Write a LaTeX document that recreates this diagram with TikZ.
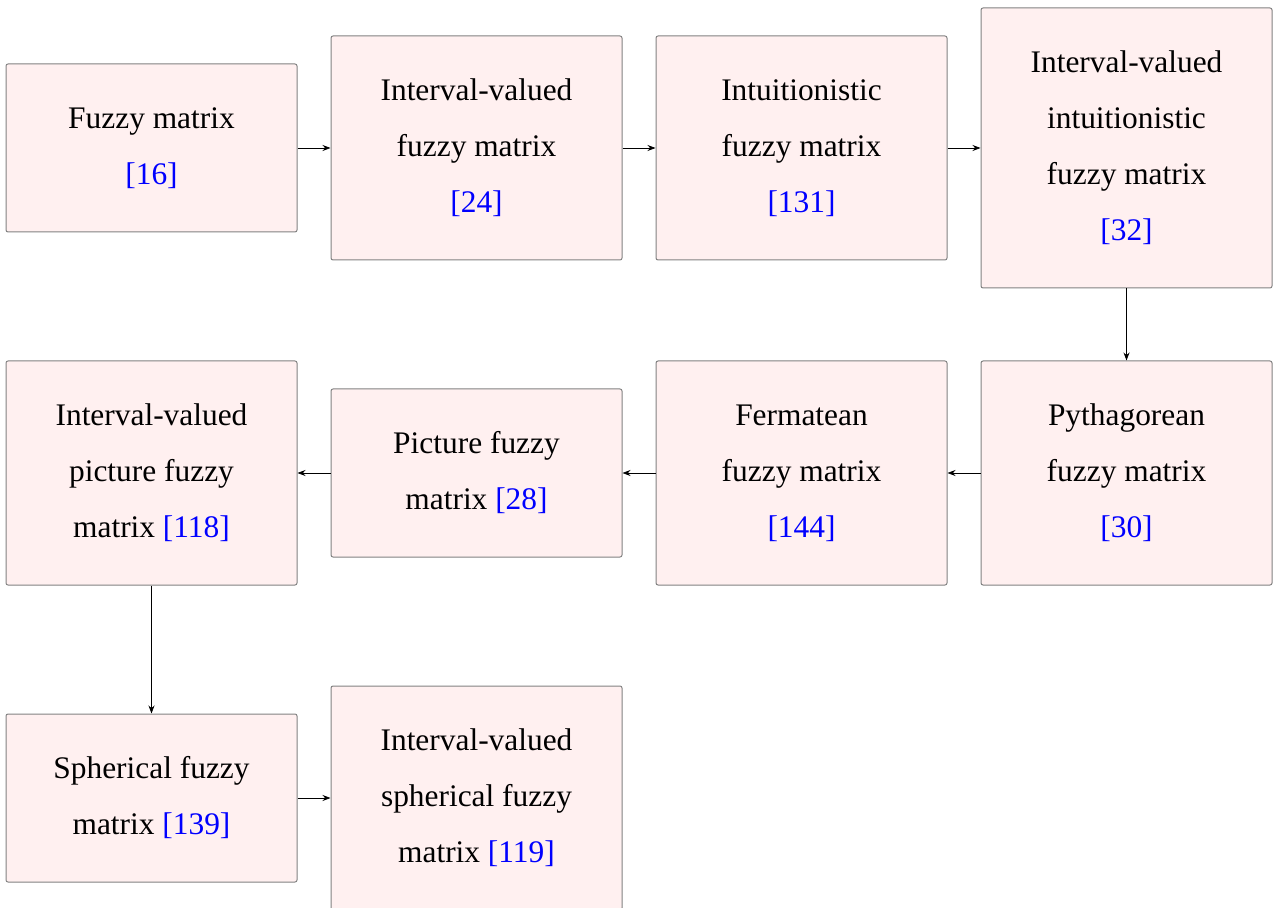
\documentclass[tikz,border=0pt]{standalone}
\usepackage{fontspec}
\setmainfont{Liberation Serif}
\usetikzlibrary{arrows.meta}
\definecolor{boxfill}{RGB}{255,240,240}
\definecolor{boxline}{RGB}{130,130,130}
\newcommand{\citeref}[1]{\textcolor{blue}{[#1]}}
\begin{document}
\begin{tikzpicture}[x=0.5pt,y=-0.5pt,
  stagebox/.style={draw=boxline, fill=boxfill, line width=0.5pt, rounded corners=1pt,
    minimum width=145.5pt, inner sep=0pt, align=center,
    font=\fontsize{15.7}{28}\selectfont},
  short/.style={stagebox, minimum height=84pt},
  mid/.style={stagebox, minimum height=112pt},
  tall/.style={stagebox, minimum height=140pt},
  flow/.style={-{Stealth[length=4pt,width=3pt]}, line width=0.4pt, black}]
\useasboundingbox (0,0) rectangle (1273,908);

% first row, left to right
\node[short] (fm)   at (151.5,148) {Fuzzy matrix\\\citeref{16}};
\node[mid]   (ivfm) at (476.5,148) {Interval-valued\\fuzzy matrix\\\citeref{24}};
\node[mid]   (ifm)  at (801.5,148) {Intuitionistic\\fuzzy matrix\\\citeref{131}};
\node[tall]  (ivifm) at (1126.5,148) {Interval-valued\\intuitionistic\\fuzzy matrix\\\citeref{32}};

% second row, right to left
\node[mid]   (pyfm)  at (1126.5,473) {Pythagorean\\fuzzy matrix\\\citeref{30}};
\node[mid]   (ffm)   at (801.5,473) {Fermatean\\fuzzy matrix\\\citeref{144}};
\node[short] (pfm)   at (476.5,473) {Picture fuzzy\\matrix \citeref{28}};
\node[mid]   (ivpfm) at (151.5,473) {Interval-valued\\picture fuzzy\\matrix \citeref{118}};

% third row
\node[short] (sfm)   at (151.5,798) {Spherical fuzzy\\matrix \citeref{139}};
\node[mid]   (ivsfm) at (476.5,798) {Interval-valued\\spherical fuzzy\\matrix \citeref{119}};

\draw[flow] (fm) -- (ivfm);
\draw[flow] (ivfm) -- (ifm);
\draw[flow] (ifm) -- (ivifm);
\draw[flow] (ivifm) -- (pyfm);
\draw[flow] (pyfm) -- (ffm);
\draw[flow] (ffm) -- (pfm);
\draw[flow] (pfm) -- (ivpfm);
\draw[flow] (ivpfm) -- (sfm);
\draw[flow] (sfm) -- (ivsfm);
\end{tikzpicture}
\end{document}
